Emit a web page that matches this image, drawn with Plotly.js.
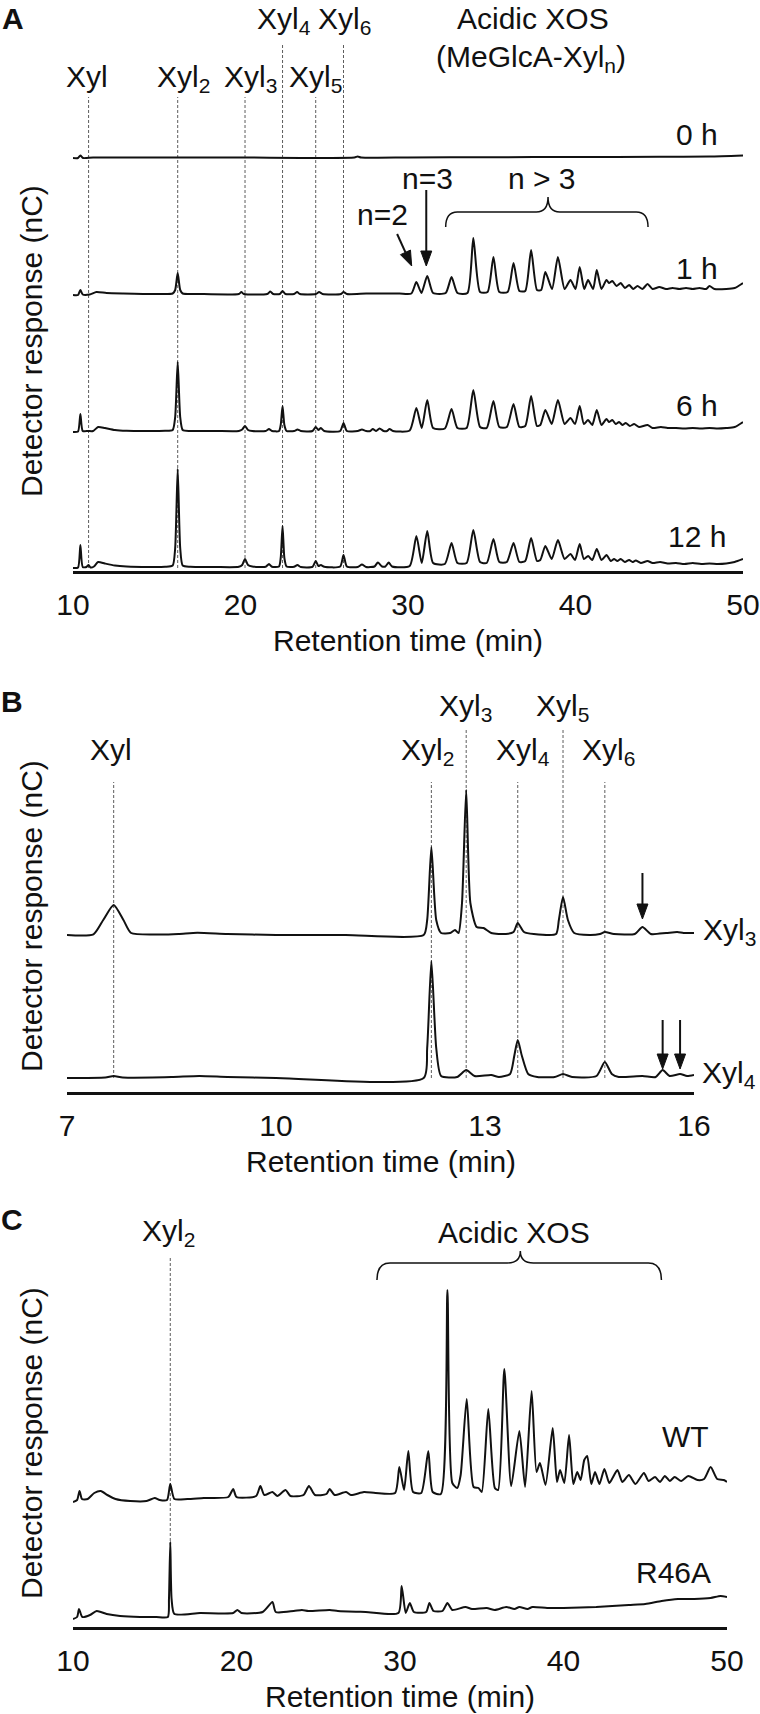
<!DOCTYPE html>
<html><head><meta charset="utf-8">
<script src="https://cdn.plot.ly/plotly-3.0.1.min.js"></script>
<style>html,body{margin:0;padding:0;background:#fff}</style>
</head><body><div id="chart" style="width:760px;height:1714px"></div>
<script>
// ---------------- DATA (retention time [min], detector response [arb. nC]) ----------------
// Panel A: enzymatic hydrolysis time course
const hoursA = ['0 h', '1 h', '6 h', '12 h'];
const a0h = [[10.0,0],[10.3,0],[10.44,2.5],[10.6,0],[11.2,0.5],[15,0.5],[20,0.5],[26.8,0.5],[27.0,1.5],[27.2,0.5],[30,0.5],[35,0.8],[40,1],[45,1.2],[48,1.5],[50,2.5]];
const a1h = [[10.0,0],[10.3,0],[10.44,5],[10.58,0.5],[11.0,0.5],[11.4,3],[12.0,2],[13.0,1.5],[15.0,1],[15.95,1.5],[16.1,5],[16.25,22],[16.4,5],[16.55,1.5],[17.5,1],[19.9,1],[20.05,3],[20.2,1],[21.6,1],[21.78,3.5],[21.95,1],[22.35,1],[22.51,4],[22.68,1],[23.2,1],[23.38,3],[23.55,1],[24.5,1],[24.69,3],[24.9,1],[26.0,1],[26.15,3],[26.35,1],[27.5,1.5],[28.5,1.5],[29.5,1.5],[30.2,1.5],[30.5,13],[30.8,2],[31.15,19],[31.5,2],[32.25,2],[32.6,18],[32.95,2],[33.55,2],[33.9,57],[34.3,3],[34.75,3],[35.1,38],[35.45,3],[35.95,3],[36.3,32],[36.65,4],[37.0,4],[37.35,45],[37.7,5],[37.95,5],[38.2,23],[38.6,6],[38.95,38],[39.35,6],[39.7,15],[40.0,6],[40.25,28],[40.52,6],[40.75,15],[41.05,6],[41.27,25],[41.55,6],[41.85,15],[42.0,12],[42.2,14],[42.45,9],[42.7,12],[42.95,7],[43.2,10],[43.45,6],[43.7,9],[44.0,6],[44.3,11],[44.6,6],[45.0,8],[45.4,6],[45.8,7],[46.2,6],[46.6,7],[47.0,6],[47.4,7],[47.8,6],[48.0,9],[48.3,6],[49.0,6],[49.5,7],[50.0,12]];
const a6h = [[10.0,0],[10.3,0.5],[10.44,18],[10.58,1],[10.9,1],[11.2,1],[11.5,5],[11.9,4],[12.5,2],[13.2,1.2],[14.5,1],[15.5,1.2],[15.95,2],[16.1,15],[16.25,70],[16.4,15],[16.55,2],[17.0,1],[18.5,1],[19.9,1],[20.1,2.5],[20.27,6],[20.45,2],[20.7,1],[21.5,1],[21.7,3],[21.88,1],[22.3,1],[22.4,7],[22.51,26],[22.62,7],[22.75,1],[23.2,1],[23.4,2.5],[23.6,1],[24.3,1],[24.49,5],[24.65,2],[24.8,4],[25.0,1],[25.95,1],[26.15,9],[26.35,1],[27.0,1],[27.25,2.5],[27.5,1],[27.75,1],[27.9,3],[28.1,1],[28.3,3.5],[28.55,1],[28.75,1],[28.9,3],[29.1,1],[30.1,1.5],[30.5,24],[30.82,4],[31.15,32],[31.5,4],[32.2,3.5],[32.6,23],[32.95,4],[33.5,4],[33.9,42],[34.3,5],[34.7,4],[35.1,31],[35.45,5],[35.9,5],[36.3,28],[36.65,5],[37.0,6],[37.35,36],[37.7,6],[37.9,7],[38.2,22],[38.58,8],[38.95,32],[39.35,8],[39.7,14],[39.97,8],[40.25,26],[40.5,8],[40.75,12],[41.0,7],[41.27,22],[41.55,7],[41.85,13],[42.0,10],[42.2,12],[42.4,8],[42.6,10],[42.8,7],[43.0,9],[43.25,6],[43.5,8],[43.8,5],[44.3,7],[44.6,4],[45.1,5],[45.5,4],[46.0,4],[46.5,3.5],[47.0,4],[47.5,3.5],[48.0,4],[48.5,3.5],[49.0,4],[49.5,5],[50.0,10]];
const a12h = [[10.0,0],[10.3,0.5],[10.44,23],[10.58,1],[10.8,1],[10.93,3],[11.05,0.5],[11.25,1.5],[11.5,6],[11.9,4.5],[12.5,2.5],[13.2,1.5],[14.5,1],[15.5,1.2],[15.95,2.5],[16.1,20],[16.25,99],[16.4,20],[16.55,2.5],[17.0,1.2],[18.5,1],[19.9,1.2],[20.1,3],[20.27,9],[20.45,3],[20.7,1.5],[21.5,1.2],[21.7,4],[21.88,1.2],[22.3,1.5],[22.4,10],[22.51,42],[22.62,10],[22.75,1.5],[23.2,1.2],[23.4,3],[23.6,1],[24.3,1.2],[24.49,7],[24.65,2],[24.8,3],[25.0,1.2],[25.95,1.5],[26.15,13],[26.35,1.5],[27.0,1],[27.25,3.5],[27.5,1],[28.0,1.5],[28.2,5.5],[28.45,1.5],[28.65,1.5],[28.85,5.5],[29.05,1.5],[30.1,2],[30.5,32],[30.82,5],[31.15,37],[31.5,5],[32.2,4],[32.6,25],[32.95,5],[33.5,5],[33.9,38],[34.3,6],[34.7,5],[35.1,29],[35.45,6],[35.9,6],[36.3,25],[36.65,6],[37.0,7],[37.35,30],[37.7,7],[37.9,8],[38.2,22],[38.58,9],[38.95,28],[39.35,9],[39.7,14],[39.97,8],[40.25,24],[40.5,9],[40.75,12],[41.0,8],[41.27,19],[41.55,8],[41.85,13],[42.1,7],[42.3,9],[42.5,7],[42.7,9],[42.95,6],[43.2,8],[43.4,6],[43.6,7.5],[43.9,5],[44.3,7],[44.6,5],[45.05,6],[45.5,4.5],[46.0,5],[46.5,4],[47.0,5],[47.5,4],[48.0,4.5],[48.5,4],[49.0,4.5],[49.5,6],[50.0,9]];
const peakNamesA = ['Xyl', 'Xyl<sub>2</sub>', 'Xyl<sub>3</sub>', 'Xyl<sub>4</sub>', 'Xyl<sub>5</sub>', 'Xyl<sub>6</sub>'];
const peakTimesA = [10.93, 16.25, 20.27, 22.51, 24.49, 26.15];
const ticksA = [10, 20, 30, 40, 50];

// Panel B: hydrolysis of Xyl3 and Xyl4
const namesB = ['Xyl<sub>3</sub>', 'Xyl<sub>4</sub>'];
const bXyl3 = [[7.0,0],[7.38,0.7],[7.52,15],[7.67,30],[7.81,15],[7.92,2],[8.3,0.5],[8.6,1],[8.87,2.3],[9.3,1],[10.0,0],[11.0,0],[12.12,0],[12.17,15],[12.23,88],[12.3,15],[12.37,2],[12.5,2],[12.57,5],[12.62,2],[12.67,32],[12.73,145],[12.79,32],[12.88,8],[12.98,7],[13.09,2],[13.3,1],[13.41,3],[13.47,12],[13.56,3],[13.7,1],[14.02,1],[14.06,15],[14.12,38],[14.19,15],[14.28,2],[14.5,0],[14.65,1],[14.72,3],[14.85,1],[15.15,1],[15.26,8],[15.38,1],[15.6,2],[15.76,3],[15.85,2],[16.0,2]];
const bXyl4 = [[7.0,0],[7.55,0.5],[7.67,2],[7.8,0.5],[8.5,1],[8.9,2],[9.3,1],[10.0,0],[12.12,0],[12.17,30],[12.23,117],[12.3,30],[12.37,2],[12.6,1],[12.73,8],[12.85,2],[13.09,3],[13.2,1],[13.36,4],[13.42,22],[13.47,38],[13.53,22],[13.62,4],[13.75,1],[14.0,1],[14.12,4],[14.25,1],[14.6,2],[14.72,16],[14.82,4],[14.92,1],[15.26,2],[15.45,1],[15.55,8],[15.65,2],[15.8,4],[15.9,2],[16.0,3]];
const peakNamesB = ['Xyl', 'Xyl<sub>2</sub>', 'Xyl<sub>3</sub>', 'Xyl<sub>4</sub>', 'Xyl<sub>5</sub>', 'Xyl<sub>6</sub>'];
const peakTimesB = [7.67, 12.23, 12.73, 13.47, 14.12, 14.72];
const ticksB = [7, 10, 13, 16];

// Panel C: WT vs R46A
const namesC = ['WT', 'R46A'];
const cWT = [[10.0,0],[10.25,2],[10.4,11],[10.55,3],[10.9,3],[11.3,9],[11.7,11],[12.1,7],[12.6,3],[13.5,1],[14.5,1],[15.0,4],[15.3,2],[15.75,2],[15.95,18],[16.2,3],[17.0,3],[18.0,4],[19.5,5],[19.8,13],[20.0,5],[21.2,6],[21.46,16],[21.7,7],[22.2,10],[22.5,6],[23.0,12],[23.3,6],[24.1,7],[24.43,16],[24.8,7],[25.5,8],[25.7,13],[26.0,7],[26.7,10],[27.0,7],[27.8,10],[28.5,9],[29.7,9],[29.96,35],[30.25,12],[30.51,51],[30.8,10],[31.3,9],[31.73,51],[32.0,10],[32.5,8],[32.9,212],[33.2,19],[33.5,14],[33.71,27],[34.08,103],[34.5,15],[34.8,14],[35.0,10],[35.4,93],[35.8,14],[36.0,12],[36.38,133],[36.8,16],[37.3,71],[37.65,15],[38.05,111],[38.35,30],[38.56,39],[38.9,17],[39.34,74],[39.6,20],[39.79,32],[40.05,19],[40.34,67],[40.6,18],[40.84,30],[41.05,22],[41.27,42],[41.45,46],[41.7,18],[41.93,30],[42.2,18],[42.5,33],[42.8,19],[43.0,24],[43.3,32],[43.6,20],[44.0,27],[44.4,18],[44.92,29],[45.2,21],[45.6,25],[45.9,20],[46.2,26],[46.5,21],[46.8,25],[47.2,21],[47.63,26],[48.2,22],[48.6,23],[49.0,35],[49.4,23],[49.8,22],[50.0,20]];
const cR46A = [[10.0,0],[10.25,2],[10.37,10],[10.57,2],[11.04,4],[11.45,8],[12.06,5],[12.88,3],[14.1,2],[15.1,2],[15.8,2],[15.87,20],[15.95,77],[16.03,20],[16.2,5],[17.77,6],[19.8,6],[20.05,9],[20.3,6],[21.6,7],[22.2,17],[22.4,7],[23.5,8],[24.0,9],[24.4,8],[25.7,9],[26.2,8],[27.9,7],[29.9,6],[30.1,33],[30.35,6],[30.6,16],[30.85,7],[31.6,7],[31.8,16],[32.05,8],[32.6,8],[32.9,16],[33.2,9],[34.0,12],[34.4,10],[35.3,11],[35.8,9],[36.5,12],[37.0,10],[37.3,12],[37.8,10],[38.1,12],[39.0,11],[40.0,11],[42.0,12],[44.0,14],[45.0,15],[46.0,18],[47.0,20],[48.0,20],[49.0,21],[49.6,23],[50.0,22]];
const ticksC = [10, 20, 30, 40, 50];

// ---------------- LAYOUT ----------------
const W = 760, H = 1714;
const FONT = 'Liberation Sans, Arial, Helvetica, sans-serif';
const FS = 30;
const INK = '#111';
const P = {
  A: {axis: 571, top: 0,    left: 73, right: 743, r0: 10, r1: 50, xa: 'x',  ya: 'y',  ytitle: 341},
  B: {axis: 1092, top: 690, left: 67, right: 694, r0: 7,  r1: 16, xa: 'x2', ya: 'y2', ytitle: 916},
  C: {axis: 1627, top: 1200, left: 73, right: 727, r0: 10, r1: 50, xa: 'x3', ya: 'y3', ytitle: 1443}
};
const py = px => 1 - px / H;
const px2 = px => px / W;
const yv = (p, px) => p.axis - px;   // pixel row -> data value in panel

const traces = [];
function addTrace(pairs, p, offsetPx, name) {
  traces.push({
    type: 'scatter', mode: 'lines', name: name,
    x: pairs.map(d => d[0]),
    y: pairs.map(d => d[1] + offsetPx),
    xaxis: p.xa, yaxis: p.ya,
    line: {color: INK, width: 2, shape: 'spline', smoothing: 0.6},
    hoverinfo: 'skip'
  });
}
// stacking offsets (pixels above each axis line)
addTrace(a0h, P.A, 413, hoursA[0]);
addTrace(a1h, P.A, 276, hoursA[1]);
addTrace(a6h, P.A, 139, hoursA[2]);
addTrace(a12h, P.A, 3, hoursA[3]);
addTrace(bXyl3, P.B, 157, 'Xyl3');
addTrace(bXyl4, P.B, 14, 'Xyl4');
addTrace(cWT, P.C, 125, namesC[0]);
addTrace(cR46A, P.C, 8, namesC[1]);

const ann = [];
const shapes = [];
function txt(text, xref, x, yref, y, extra) {
  ann.push(Object.assign({text: text, xref: xref, x: x, yref: yref, y: y, showarrow: false,
    xanchor: 'center', yanchor: 'middle', font: {family: FONT, size: FS, color: INK}}, extra || {}));
}
// arrow drawn as a shaft line plus a filled triangular head
function arrow(p, xh, headPx, xt, tailPx) {
  const s = (p.right - p.left) / (p.r1 - p.r0);
  const X = t => p.left + (t - p.r0) * s;
  const T = x => p.r0 + (x - p.left) / s;
  const hx = X(xh), tx = X(xt);
  const dx = hx - tx, dy = headPx - tailPx, L = Math.hypot(dx, dy);
  const ux = dx / L, uy = dy / L, hl = 15, hw = 5.5;
  const bx = hx - ux * hl, by = headPx - uy * hl;
  shapes.push({type: 'line', xref: p.xa, yref: p.ya, x0: xt, y0: yv(p, tailPx), x1: T(bx), y1: yv(p, by),
    line: {color: INK, width: 2}});
  const pts = [[hx, headPx], [bx - uy * hw, by + ux * hw], [bx + uy * hw, by - ux * hw]];
  const path = 'M ' + pts.map(q => `${T(q[0])},${yv(p, q[1])}`).join(' L ') + ' Z';
  shapes.push({type: 'path', xref: p.xa, yref: p.ya, path: path, fillcolor: INK,
    line: {color: INK, width: 1}});
}
function dashed(p, x, topPx, botPx) {
  shapes.push({type: 'line', xref: p.xa, yref: p.ya, x0: x, x1: x, y0: yv(p, botPx), y1: yv(p, topPx),
    layer: 'below', line: {color: '#333', width: 0.8, dash: '3px,2px'}});
}
function brace(p, x0, x1, xm, endPx, armPx, tipPx, r) {
  const e = yv(p, endPx), a = yv(p, armPx), t = yv(p, tipPx);
  const path = `M ${x0},${e} Q ${x0},${a} ${x0 + r},${a} L ${xm - r},${a} Q ${xm},${a} ${xm},${t} ` +
               `Q ${xm},${a} ${xm + r},${a} L ${x1 - r},${a} Q ${x1},${a} ${x1},${e}`;
  shapes.push({type: 'path', xref: p.xa, yref: p.ya, path: path, line: {color: INK, width: 1.5}});
}
function axisTitles(p) {
  txt('Retention time (min)', 'paper', px2((p.left + p.right) / 2), 'paper', py(p.axis + 69));
  txt('Detector response (nC)', 'paper', px2(31), 'paper', py(p.ytitle), {textangle: -90});
}

// ---- Panel A ----
txt('<b>A</b>', 'paper', px2(13), 'paper', py(19));
const topA = [97, 97, 97, 45, 97, 45];
peakTimesA.forEach((t, i) => dashed(P.A, t, topA[i], 568));
const labAx = [10.84, 16.6, 20.62, 22.57, 24.46, 26.2];
const labAy = [76, 78, 78, 20, 78, 20];
peakNamesA.forEach((n, i) => txt(n, 'x', labAx[i], 'y', yv(P.A, labAy[i])));
txt('Acidic XOS', 'x', 37.49, 'y', yv(P.A, 18));
txt('(MeGlcA-Xyl<sub>n</sub>)', 'x', 37.35, 'y', yv(P.A, 58));
const hourY = [134, 268, 405, 536];
hoursA.forEach((h, i) => txt(h, 'x', 47.25, 'y', yv(P.A, hourY[i])));
txt('n=3', 'x', 31.15, 'y', yv(P.A, 178));
txt('n > 3', 'x', 37.99, 'y', yv(P.A, 178));
txt('n=2', 'x', 28.47, 'y', yv(P.A, 214));
arrow(P.A, 31.09, 266, 31.09, 190);
arrow(P.A, 30.22, 266, 29.35, 234);
brace(P.A, 32.25, 44.33, 38.36, 227, 212, 197, 0.7);
axisTitles(P.A);

// ---- Panel B ----
txt('<b>B</b>', 'paper', px2(12), 'paper', py(701));
const topB = [782, 782, 730, 782, 730, 782];
peakTimesB.forEach((t, i) => dashed(P.B, t, topB[i], 1078));
const labBx = [7.63, 12.18, 12.72, 13.55, 14.11, 14.77];
const labBy = [749, 751, 707, 751, 707, 751];
peakNamesB.forEach((n, i) => txt(n, 'x2', labBx[i], 'y2', yv(P.B, labBy[i])));
txt(namesB[0], 'paper', px2(729), 'paper', py(931));
txt(namesB[1], 'paper', px2(729), 'paper', py(1074));
arrow(P.B, 15.26, 919, 15.26, 873);
arrow(P.B, 15.55, 1069, 15.55, 1020);
arrow(P.B, 15.80, 1069, 15.80, 1020);
axisTitles(P.B);

// ---- Panel C ----
txt('<b>C</b>', 'paper', px2(12), 'paper', py(1219));
dashed(P.C, 15.95, 1257, 1541);
txt('Xyl<sub>2</sub>', 'x3', 15.86, 'y3', yv(P.C, 1232));
txt('Acidic XOS', 'x3', 36.97, 'y3', yv(P.C, 1232));
brace(P.C, 28.59, 45.99, 37.36, 1280, 1263, 1251, 0.8);
txt(namesC[0], 'x3', 47.47, 'y3', yv(P.C, 1436));
txt(namesC[1], 'x3', 46.7, 'y3', yv(P.C, 1572));
axisTitles(P.C);

function xaxis(p, ticks) {
  return {domain: [px2(p.left), px2(p.right)], range: [p.r0, p.r1], anchor: p.ya, showline: true,
    linecolor: INK, linewidth: 2.5, ticks: '', tickvals: ticks, ticktext: ticks.map(String),
    ticklabelstandoff: 5, tickfont: {family: FONT, size: FS, color: INK},
    showgrid: false, zeroline: false, fixedrange: true};
}
function yaxis(p) {
  return {domain: [py(p.axis), py(p.top)], range: [0, p.axis - p.top], visible: false,
    showgrid: false, zeroline: false, fixedrange: true, anchor: p.xa};
}

const layout = {
  width: W, height: H, margin: {l: 0, r: 0, t: 0, b: 0},
  paper_bgcolor: '#fff', plot_bgcolor: 'rgba(0,0,0,0)', showlegend: false,
  font: {family: FONT, size: FS, color: INK},
  xaxis: xaxis(P.A, ticksA), yaxis: yaxis(P.A),
  xaxis2: xaxis(P.B, ticksB), yaxis2: yaxis(P.B),
  xaxis3: xaxis(P.C, ticksC), yaxis3: yaxis(P.C),
  annotations: ann, shapes: shapes
};
Plotly.newPlot('chart', traces, layout, {staticPlot: true, displayModeBar: false});
</script></body></html>
